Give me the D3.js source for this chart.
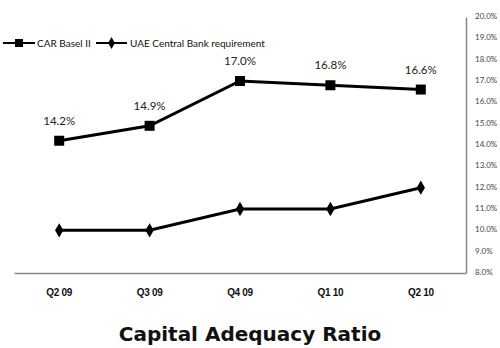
<!DOCTYPE html>
<html><head><meta charset="utf-8">
<script src="https://cdn.jsdelivr.net/npm/d3@7"></script>
<style>body{margin:0;background:#fff}svg{display:block}</style>
</head><body>
<script>
const categories = ["Q2 09","Q3 09","Q4 09","Q1 10","Q2 10"];
const carBasel = [14.2,14.9,17.0,16.8,16.6];
const uaeReq = [10,10,11,11,12];
const yTicks = [8,9,10,11,12,13,14,15,16,17,18,19,20];
const seriesNames = ["CAR Basel II","UAE Central Bank requirement"];

(function(){
const W=500,H=348;
const svg=d3.select("body").append("svg").attr("width",W).attr("height",H);
const pL=14,pR=466,pT=17,pB=273;
const x=d3.scaleBand().domain(categories).range([pL,pR]);
const y=d3.scaleLinear().domain([8,20]).range([pB,pT]);

// right axis
const ya=d3.axisRight(y).tickValues(yTicks).tickSize(0).tickPadding(9).tickFormat(d=>d.toFixed(1)+"%");
const gy=svg.append("g").attr("transform",`translate(${pR},0)`).call(ya);
gy.select(".domain").attr("stroke","#888").attr("stroke-width",1.5);
gy.selectAll("text").attr("font-family","Lato, 'Open Sans', sans-serif").attr("font-size",8).attr("fill","#444").attr("dy","0.2em");

// bottom axis
const xa=d3.axisBottom(x).tickSize(0).tickPadding(16);
const gx=svg.append("g").attr("transform",`translate(0,${pB})`).call(xa);
gx.select(".domain").attr("stroke","#888").attr("stroke-width",1.5);
gx.selectAll("text").attr("font-family","'Liberation Sans', Arial, sans-serif").attr("font-weight","bold").attr("font-size",10).attr("fill","#111").attr("letter-spacing","-0.3px");

const cx=d=>x(d)+x.bandwidth()/2;
const line=d3.line().x((d,i)=>cx(categories[i])).y(d=>y(d));

svg.append("path").datum(carBasel).attr("d",line).attr("fill","none").attr("stroke","#000").attr("stroke-width",3);
svg.append("path").datum(uaeReq).attr("d",line).attr("fill","none").attr("stroke","#000").attr("stroke-width",3);

svg.selectAll(".sq").data(carBasel).enter().append("rect")
 .attr("x",(d,i)=>cx(categories[i])-5).attr("y",d=>y(d)-5).attr("width",10).attr("height",10).attr("fill","#000");
const diamond=d3.symbol().type(d3.symbolDiamond).size(60);
svg.selectAll(".dm").data(uaeReq).enter().append("path")
 .attr("d",diamond).attr("transform",(d,i)=>`translate(${cx(categories[i])},${y(d)})`).attr("fill","#000");

svg.selectAll(".lbl").data(carBasel).enter().append("text")
 .attr("x",(d,i)=>cx(categories[i])).attr("y",d=>y(d)-16).attr("text-anchor","middle")
 .attr("font-family","Lato, 'Open Sans', sans-serif").attr("font-size",11.5).attr("fill","#222")
 .text(d=>d.toFixed(1)+"%");

// legend
const lg=svg.append("g").attr("font-family","Lato, 'Open Sans', sans-serif").attr("font-size",10).attr("fill","#111");
lg.append("line").attr("x1",3).attr("x2",35).attr("y1",43).attr("y2",43).attr("stroke","#000").attr("stroke-width",2);
lg.append("rect").attr("x",15).attr("y",39).attr("width",8).attr("height",8).attr("fill","#000");
lg.append("text").attr("x",37).attr("y",46.5).text(seriesNames[0]);
lg.append("line").attr("x1",96).attr("x2",127).attr("y1",43).attr("y2",43).attr("stroke","#000").attr("stroke-width",2);
lg.append("path").attr("d",d3.symbol().type(d3.symbolDiamond).size(40)).attr("transform","translate(111.5,43)").attr("fill","#000");
lg.append("text").attr("x",130).attr("y",46.5).text(seriesNames[1]);

svg.append("text").attr("x",250).attr("y",341).attr("text-anchor","middle")
 .attr("font-family","'DejaVu Sans', sans-serif").attr("font-weight","bold").attr("font-size",20).attr("fill","#111")
 .text("Capital Adequacy Ratio");
})();
</script>
</body></html>
